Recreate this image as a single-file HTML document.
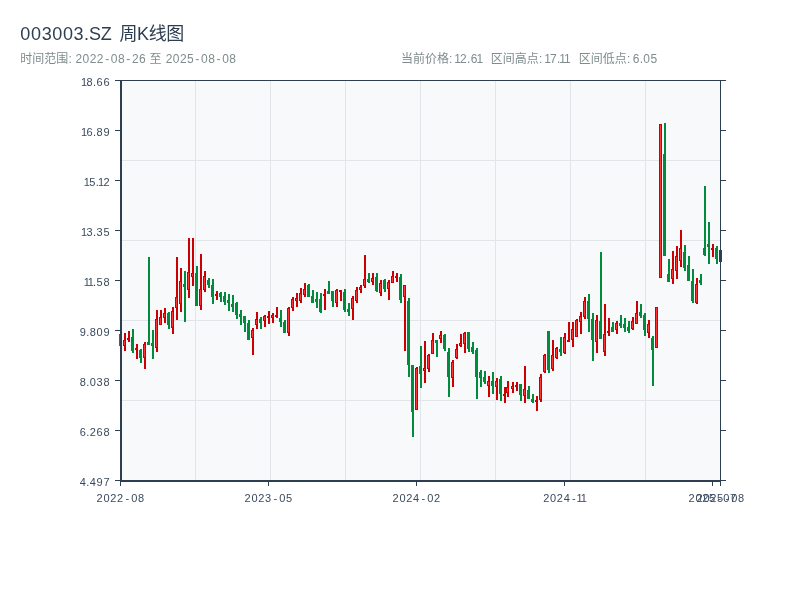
<!DOCTYPE html>
<html lang="zh-CN">
<head>
<meta charset="utf-8">
<title>003003.SZ 周K线图</title>
<style>
html,body{margin:0;padding:0;background:#fff;}
body{width:800px;height:600px;overflow:hidden;}
svg{display:block;font-family:"Liberation Sans", "Noto Sans CJK SC", sans-serif;}
.ax rect{fill:#2c3e50}
.gr rect{fill:#e1e5e9}
.yl text,.xl text{font-size:11px;fill:#394a5e}
.r{fill:#cc0000}.l{fill:#ff3333}.g{fill:#008c3c}
</style>
</head>
<body>
<svg width="800" height="600" viewBox="0 0 800 600" shape-rendering="crispEdges">
<rect x="0" y="0" width="800" height="600" fill="#ffffff"/>
<text y="39.5" font-size="18" fill="#2c3e50"><tspan x="20.32 30.98 41.64 52.29 62.95 73.60 84.09 89.00 100.85">003003.SZ</tspan><tspan x="114.40 119.38 137.04 148.72 166.27"> 周K线图</tspan></text>
<text y="63.2" font-size="12" fill="#7f8c8d"><tspan x="20.30 32.30 44.30 56.30 68.43 72.03">时间范围: </tspan><tspan x="75.52 82.62 89.72 96.83 105.17 110.83 117.94 126.28 131.94 139.04">2022-08-26</tspan><tspan x="145.93 149.40 161.53"> 至 </tspan><tspan x="165.72 172.82 179.92 187.03 195.37 201.03 208.14 216.48 222.14 229.24">2025-08-08</tspan></text>
<text y="63.2" font-size="12" fill="#7f8c8d"><tspan x="400.90 412.90 424.90 436.90 449.03 452.63">当前价格: </tspan><tspan x="454.24 460.08 467.07 470.72 476.55">12.61</tspan></text>
<text y="63.2" font-size="12" fill="#7f8c8d"><tspan x="490.80 502.80 514.80 526.80 538.93 542.53">区间高点: </tspan><tspan x="544.14 549.98 556.97 559.35 563.91">17.11</tspan></text>
<text y="63.2" font-size="12" fill="#7f8c8d"><tspan x="578.80 590.80 602.80 614.80 626.93 630.53">区间低点: </tspan><tspan x="632.72 639.71 643.36 650.46">6.05</tspan></text>
<rect x="121" y="80" width="600" height="401" fill="#f8f9fa"/>
<g class="gr">
<rect x="195" y="80" width="1" height="400"/><rect x="270" y="80" width="1" height="400"/><rect x="345" y="80" width="1" height="400"/><rect x="420" y="80" width="1" height="400"/><rect x="495" y="80" width="1" height="400"/><rect x="570" y="80" width="1" height="400"/><rect x="645" y="80" width="1" height="400"/><rect x="120" y="160" width="600" height="1"/><rect x="120" y="240" width="600" height="1"/><rect x="120" y="320" width="600" height="1"/><rect x="120" y="400" width="600" height="1"/>
</g>
<g>
<rect class="g" x="120" y="330" width="2" height="20"/><rect class="g" x="119" y="334" width="3" height="12"/>
<rect class="r" x="124" y="333" width="2" height="18"/><rect class="r" x="123" y="340" width="3" height="6"/><rect class="l" x="124" y="341" width="1" height="4"/>
<rect class="r" x="128" y="331" width="2" height="11"/><rect class="r" x="127" y="338" width="3" height="2"/>
<rect class="g" x="132" y="329" width="2" height="24"/><rect class="g" x="131" y="337" width="3" height="14"/>
<rect class="r" x="136" y="344" width="2" height="15"/><rect class="r" x="135" y="348" width="3" height="2"/>
<rect class="g" x="140" y="349" width="2" height="14"/><rect class="g" x="139" y="350" width="3" height="8"/>
<rect class="r" x="144" y="342" width="2" height="27"/><rect class="r" x="143" y="344" width="3" height="14"/><rect class="l" x="144" y="345" width="1" height="12"/>
<rect class="g" x="148" y="257" width="2" height="88"/><rect class="g" x="147" y="342" width="3" height="3"/>
<rect class="g" x="152" y="330" width="2" height="29"/><rect class="g" x="151" y="343" width="3" height="3"/>
<rect class="r" x="156" y="310" width="2" height="42"/><rect class="r" x="155" y="319" width="3" height="29"/><rect class="l" x="156" y="320" width="1" height="27"/>
<rect class="r" x="160" y="310" width="2" height="15"/><rect class="r" x="159" y="317" width="3" height="8"/><rect class="l" x="160" y="318" width="1" height="6"/>
<rect class="r" x="164" y="308" width="2" height="15"/><rect class="r" x="163" y="313" width="3" height="5"/><rect class="l" x="164" y="314" width="1" height="3"/>
<rect class="g" x="168" y="312" width="2" height="17"/><rect class="g" x="167" y="313" width="3" height="12"/>
<rect class="r" x="172" y="307" width="2" height="27"/><rect class="r" x="171" y="311" width="3" height="17"/><rect class="l" x="172" y="312" width="1" height="15"/>
<rect class="r" x="176" y="257" width="2" height="63"/><rect class="r" x="175" y="297" width="3" height="11"/><rect class="l" x="176" y="298" width="1" height="9"/>
<rect class="r" x="180" y="268" width="2" height="44"/><rect class="r" x="179" y="281" width="3" height="23"/><rect class="l" x="180" y="282" width="1" height="21"/>
<rect class="g" x="184" y="271" width="2" height="51"/><rect class="g" x="183" y="284" width="3" height="3"/>
<rect class="r" x="188" y="238" width="2" height="60"/><rect class="r" x="187" y="272" width="3" height="18"/><rect class="l" x="188" y="273" width="1" height="16"/>
<rect class="r" x="192" y="238" width="2" height="48"/><rect class="r" x="191" y="273" width="3" height="4"/><rect class="l" x="192" y="274" width="1" height="2"/>
<rect class="g" x="196" y="266" width="2" height="40"/><rect class="g" x="195" y="273" width="3" height="33"/>
<rect class="r" x="200" y="254" width="2" height="56"/><rect class="r" x="199" y="289" width="3" height="17"/><rect class="l" x="200" y="290" width="1" height="15"/>
<rect class="r" x="204" y="271" width="2" height="21"/><rect class="r" x="203" y="276" width="3" height="14"/><rect class="l" x="204" y="277" width="1" height="12"/>
<rect class="g" x="208" y="278" width="2" height="10"/><rect class="g" x="207" y="280" width="3" height="5"/>
<rect class="g" x="212" y="279" width="2" height="25"/><rect class="g" x="211" y="285" width="3" height="12"/>
<rect class="r" x="216" y="291" width="2" height="9"/><rect class="r" x="215" y="294" width="3" height="2"/>
<rect class="g" x="220" y="292" width="2" height="10"/><rect class="g" x="219" y="293" width="3" height="4"/>
<rect class="g" x="224" y="292" width="2" height="13"/><rect class="g" x="223" y="296" width="3" height="6"/>
<rect class="g" x="228" y="294" width="2" height="17"/><rect class="g" x="227" y="300" width="3" height="3"/>
<rect class="g" x="232" y="295" width="2" height="17"/><rect class="g" x="231" y="304" width="3" height="3"/>
<rect class="g" x="236" y="302" width="2" height="17"/><rect class="g" x="235" y="303" width="3" height="12"/>
<rect class="g" x="240" y="310" width="2" height="15"/><rect class="g" x="239" y="314" width="3" height="3"/>
<rect class="g" x="244" y="316" width="2" height="16"/><rect class="g" x="243" y="316" width="3" height="7"/>
<rect class="g" x="248" y="320" width="2" height="20"/><rect class="g" x="247" y="323" width="3" height="17"/>
<rect class="r" x="252" y="328" width="2" height="27"/><rect class="r" x="251" y="330" width="3" height="8"/><rect class="l" x="252" y="331" width="1" height="6"/>
<rect class="r" x="256" y="312" width="2" height="17"/><rect class="r" x="255" y="319" width="3" height="6"/><rect class="l" x="256" y="320" width="1" height="4"/>
<rect class="g" x="260" y="317" width="2" height="12"/><rect class="g" x="259" y="319" width="3" height="4"/>
<rect class="r" x="264" y="315" width="2" height="12"/><rect class="r" x="263" y="316" width="3" height="5"/><rect class="l" x="264" y="317" width="1" height="3"/>
<rect class="r" x="268" y="311" width="2" height="13"/><rect class="r" x="267" y="316" width="3" height="2"/>
<rect class="r" x="272" y="313" width="2" height="10"/><rect class="r" x="271" y="315" width="3" height="3"/><rect class="l" x="272" y="316" width="1" height="1"/>
<rect class="r" x="276" y="307" width="2" height="11"/><rect class="r" x="275" y="315" width="3" height="2"/>
<rect class="g" x="280" y="310" width="2" height="17"/><rect class="g" x="279" y="318" width="3" height="4"/>
<rect class="g" x="284" y="320" width="2" height="13"/><rect class="g" x="283" y="322" width="3" height="11"/>
<rect class="r" x="288" y="307" width="2" height="29"/><rect class="r" x="287" y="308" width="3" height="25"/><rect class="l" x="288" y="309" width="1" height="23"/>
<rect class="r" x="292" y="297" width="2" height="14"/><rect class="r" x="291" y="299" width="3" height="9"/><rect class="l" x="292" y="300" width="1" height="7"/>
<rect class="r" x="296" y="293" width="2" height="14"/><rect class="r" x="295" y="298" width="3" height="3"/><rect class="l" x="296" y="299" width="1" height="1"/>
<rect class="r" x="300" y="288" width="2" height="15"/><rect class="r" x="299" y="293" width="3" height="8"/><rect class="l" x="300" y="294" width="1" height="6"/>
<rect class="r" x="304" y="283" width="2" height="14"/><rect class="r" x="303" y="289" width="3" height="6"/><rect class="l" x="304" y="290" width="1" height="4"/>
<rect class="g" x="308" y="284" width="2" height="13"/><rect class="g" x="307" y="285" width="3" height="12"/>
<rect class="g" x="312" y="290" width="2" height="13"/><rect class="g" x="311" y="296" width="3" height="7"/>
<rect class="g" x="316" y="292" width="2" height="16"/><rect class="g" x="315" y="299" width="3" height="3"/>
<rect class="g" x="320" y="293" width="2" height="20"/><rect class="g" x="319" y="299" width="3" height="13"/>
<rect class="r" x="324" y="289" width="2" height="21"/><rect class="r" x="323" y="294" width="3" height="2"/>
<rect class="g" x="328" y="281" width="2" height="13"/><rect class="g" x="327" y="291" width="3" height="3"/>
<rect class="g" x="332" y="291" width="2" height="16"/><rect class="g" x="331" y="291" width="3" height="10"/>
<rect class="r" x="336" y="289" width="2" height="18"/><rect class="r" x="335" y="290" width="3" height="13"/><rect class="l" x="336" y="291" width="1" height="11"/>
<rect class="r" x="340" y="290" width="2" height="11"/><rect class="r" x="339" y="290" width="3" height="2"/>
<rect class="g" x="344" y="289" width="2" height="23"/><rect class="g" x="343" y="292" width="3" height="18"/>
<rect class="g" x="348" y="303" width="2" height="13"/><rect class="g" x="347" y="309" width="3" height="3"/>
<rect class="r" x="352" y="296" width="2" height="24"/><rect class="r" x="351" y="298" width="3" height="11"/><rect class="l" x="352" y="299" width="1" height="9"/>
<rect class="r" x="356" y="287" width="2" height="16"/><rect class="r" x="355" y="290" width="3" height="11"/><rect class="l" x="356" y="291" width="1" height="9"/>
<rect class="r" x="360" y="285" width="2" height="8"/><rect class="r" x="359" y="287" width="3" height="3"/><rect class="l" x="360" y="288" width="1" height="1"/>
<rect class="r" x="364" y="255" width="2" height="33"/><rect class="r" x="363" y="279" width="3" height="7"/><rect class="l" x="364" y="280" width="1" height="5"/>
<rect class="g" x="368" y="273" width="2" height="10"/><rect class="g" x="367" y="279" width="3" height="3"/>
<rect class="r" x="372" y="273" width="2" height="12"/><rect class="r" x="371" y="278" width="3" height="4"/><rect class="l" x="372" y="279" width="1" height="2"/>
<rect class="g" x="376" y="273" width="2" height="19"/><rect class="g" x="375" y="277" width="3" height="14"/>
<rect class="r" x="380" y="280" width="2" height="16"/><rect class="r" x="379" y="283" width="3" height="10"/><rect class="l" x="380" y="284" width="1" height="8"/>
<rect class="g" x="384" y="279" width="2" height="13"/><rect class="g" x="383" y="280" width="3" height="9"/>
<rect class="r" x="388" y="280" width="2" height="20"/><rect class="r" x="387" y="282" width="3" height="7"/><rect class="l" x="388" y="283" width="1" height="5"/>
<rect class="r" x="392" y="271" width="2" height="12"/><rect class="r" x="391" y="276" width="3" height="7"/><rect class="l" x="392" y="277" width="1" height="5"/>
<rect class="r" x="396" y="273" width="2" height="9"/><rect class="r" x="395" y="276" width="3" height="2"/>
<rect class="g" x="400" y="274" width="2" height="29"/><rect class="g" x="399" y="277" width="3" height="23"/>
<rect class="r" x="404" y="285" width="2" height="66"/><rect class="r" x="403" y="285" width="3" height="12"/><rect class="l" x="404" y="286" width="1" height="10"/>
<rect class="g" x="408" y="298" width="2" height="79"/><rect class="g" x="407" y="301" width="3" height="64"/>
<rect class="g" x="412" y="365" width="2" height="72"/><rect class="g" x="411" y="365" width="3" height="47"/>
<rect class="r" x="416" y="367" width="2" height="43"/><rect class="r" x="415" y="368" width="3" height="42"/><rect class="l" x="416" y="369" width="1" height="40"/>
<rect class="g" x="420" y="346" width="2" height="42"/><rect class="g" x="419" y="366" width="3" height="8"/>
<rect class="r" x="424" y="341" width="2" height="42"/><rect class="r" x="423" y="368" width="3" height="3"/><rect class="l" x="424" y="369" width="1" height="1"/>
<rect class="r" x="428" y="354" width="2" height="18"/><rect class="r" x="427" y="355" width="3" height="14"/><rect class="l" x="428" y="356" width="1" height="12"/>
<rect class="r" x="432" y="333" width="2" height="21"/><rect class="r" x="431" y="340" width="3" height="14"/><rect class="l" x="432" y="341" width="1" height="12"/>
<rect class="g" x="436" y="340" width="2" height="17"/><rect class="g" x="435" y="340" width="3" height="3"/>
<rect class="r" x="440" y="331" width="2" height="12"/><rect class="r" x="439" y="335" width="3" height="4"/><rect class="l" x="440" y="336" width="1" height="2"/>
<rect class="g" x="444" y="334" width="2" height="17"/><rect class="g" x="443" y="335" width="3" height="14"/>
<rect class="g" x="448" y="348" width="2" height="49"/><rect class="g" x="447" y="352" width="3" height="25"/>
<rect class="r" x="452" y="360" width="2" height="27"/><rect class="r" x="451" y="362" width="3" height="16"/><rect class="l" x="452" y="363" width="1" height="14"/>
<rect class="r" x="456" y="344" width="2" height="15"/><rect class="r" x="455" y="349" width="3" height="9"/><rect class="l" x="456" y="350" width="1" height="7"/>
<rect class="r" x="460" y="334" width="2" height="13"/><rect class="r" x="459" y="343" width="3" height="3"/><rect class="l" x="460" y="344" width="1" height="1"/>
<rect class="r" x="464" y="332" width="2" height="21"/><rect class="r" x="463" y="333" width="3" height="11"/><rect class="l" x="464" y="334" width="1" height="9"/>
<rect class="g" x="468" y="332" width="2" height="20"/><rect class="g" x="467" y="332" width="3" height="17"/>
<rect class="g" x="472" y="342" width="2" height="12"/><rect class="g" x="471" y="347" width="3" height="5"/>
<rect class="g" x="476" y="348" width="2" height="51"/><rect class="g" x="475" y="350" width="3" height="27"/>
<rect class="g" x="480" y="370" width="2" height="17"/><rect class="g" x="479" y="372" width="3" height="6"/>
<rect class="g" x="484" y="371" width="2" height="13"/><rect class="g" x="483" y="377" width="3" height="5"/>
<rect class="r" x="488" y="376" width="2" height="21"/><rect class="r" x="487" y="381" width="3" height="5"/><rect class="l" x="488" y="382" width="1" height="3"/>
<rect class="g" x="492" y="372" width="2" height="22"/><rect class="g" x="491" y="381" width="3" height="5"/>
<rect class="r" x="496" y="378" width="2" height="22"/><rect class="r" x="495" y="381" width="3" height="6"/><rect class="l" x="496" y="382" width="1" height="4"/>
<rect class="g" x="500" y="376" width="2" height="25"/><rect class="g" x="499" y="379" width="3" height="15"/>
<rect class="r" x="504" y="387" width="2" height="16"/><rect class="r" x="503" y="394" width="3" height="2"/>
<rect class="r" x="507" y="381" width="2" height="16"/><rect class="r" x="506" y="387" width="3" height="6"/><rect class="l" x="507" y="388" width="1" height="4"/>
<rect class="r" x="512" y="382" width="2" height="11"/><rect class="r" x="511" y="386" width="3" height="3"/><rect class="l" x="512" y="387" width="1" height="1"/>
<rect class="r" x="516" y="382" width="2" height="9"/><rect class="r" x="515" y="385" width="3" height="2"/>
<rect class="g" x="520" y="384" width="2" height="17"/><rect class="g" x="519" y="384" width="3" height="11"/>
<rect class="r" x="524" y="366" width="2" height="37"/><rect class="r" x="523" y="389" width="3" height="7"/><rect class="l" x="524" y="390" width="1" height="5"/>
<rect class="g" x="528" y="386" width="2" height="13"/><rect class="g" x="527" y="390" width="3" height="9"/>
<rect class="g" x="532" y="394" width="2" height="9"/><rect class="g" x="531" y="399" width="3" height="3"/>
<rect class="r" x="536" y="396" width="2" height="15"/><rect class="r" x="535" y="400" width="3" height="2"/>
<rect class="r" x="540" y="374" width="2" height="28"/><rect class="r" x="539" y="377" width="3" height="23"/><rect class="l" x="540" y="378" width="1" height="21"/>
<rect class="r" x="544" y="354" width="2" height="19"/><rect class="r" x="543" y="355" width="3" height="17"/><rect class="l" x="544" y="356" width="1" height="15"/>
<rect class="g" x="548" y="331" width="2" height="42"/><rect class="g" x="547" y="331" width="3" height="39"/>
<rect class="r" x="552" y="340" width="2" height="31"/><rect class="r" x="551" y="355" width="3" height="14"/><rect class="l" x="552" y="356" width="1" height="12"/>
<rect class="r" x="556" y="347" width="2" height="12"/><rect class="r" x="555" y="348" width="3" height="10"/><rect class="l" x="556" y="349" width="1" height="8"/>
<rect class="g" x="560" y="337" width="2" height="19"/><rect class="g" x="559" y="349" width="3" height="3"/>
<rect class="r" x="564" y="333" width="2" height="21"/><rect class="r" x="563" y="337" width="3" height="16"/><rect class="l" x="564" y="338" width="1" height="14"/>
<rect class="r" x="568" y="322" width="2" height="20"/><rect class="r" x="567" y="340" width="3" height="2"/>
<rect class="r" x="572" y="322" width="2" height="25"/><rect class="r" x="571" y="329" width="3" height="11"/><rect class="l" x="572" y="330" width="1" height="9"/>
<rect class="r" x="576" y="319" width="2" height="18"/><rect class="r" x="575" y="320" width="3" height="17"/><rect class="l" x="576" y="321" width="1" height="15"/>
<rect class="r" x="580" y="312" width="2" height="22"/><rect class="r" x="579" y="316" width="3" height="6"/><rect class="l" x="580" y="317" width="1" height="4"/>
<rect class="r" x="584" y="297" width="2" height="22"/><rect class="r" x="583" y="301" width="3" height="16"/><rect class="l" x="584" y="302" width="1" height="14"/>
<rect class="g" x="588" y="294" width="2" height="38"/><rect class="g" x="587" y="301" width="3" height="18"/>
<rect class="g" x="592" y="313" width="2" height="48"/><rect class="g" x="591" y="319" width="3" height="21"/>
<rect class="r" x="596" y="315" width="2" height="38"/><rect class="r" x="595" y="320" width="3" height="22"/><rect class="l" x="596" y="321" width="1" height="20"/>
<rect class="g" x="600" y="252" width="2" height="87"/><rect class="g" x="599" y="321" width="3" height="18"/>
<rect class="r" x="604" y="304" width="2" height="52"/><rect class="r" x="603" y="334" width="3" height="18"/><rect class="l" x="604" y="335" width="1" height="16"/>
<rect class="r" x="608" y="318" width="2" height="18"/><rect class="r" x="607" y="331" width="3" height="2"/>
<rect class="g" x="612" y="322" width="2" height="10"/><rect class="g" x="611" y="327" width="3" height="5"/>
<rect class="r" x="616" y="321" width="2" height="13"/><rect class="r" x="615" y="323" width="3" height="7"/><rect class="l" x="616" y="324" width="1" height="5"/>
<rect class="g" x="620" y="315" width="2" height="13"/><rect class="g" x="619" y="323" width="3" height="3"/>
<rect class="g" x="624" y="318" width="2" height="14"/><rect class="g" x="623" y="324" width="3" height="4"/>
<rect class="g" x="628" y="321" width="2" height="12"/><rect class="g" x="627" y="327" width="3" height="4"/>
<rect class="r" x="632" y="317" width="2" height="13"/><rect class="r" x="631" y="321" width="3" height="8"/><rect class="l" x="632" y="322" width="1" height="6"/>
<rect class="r" x="636" y="301" width="2" height="23"/><rect class="r" x="635" y="313" width="3" height="11"/><rect class="l" x="636" y="314" width="1" height="9"/>
<rect class="g" x="640" y="304" width="2" height="14"/><rect class="g" x="639" y="312" width="3" height="4"/>
<rect class="g" x="644" y="313" width="2" height="23"/><rect class="g" x="643" y="315" width="3" height="15"/>
<rect class="r" x="648" y="320" width="2" height="18"/><rect class="r" x="647" y="324" width="3" height="9"/><rect class="l" x="648" y="325" width="1" height="7"/>
<rect class="g" x="652" y="336" width="2" height="50"/><rect class="g" x="651" y="338" width="3" height="12"/>
<rect class="r" x="656" y="307" width="2" height="41"/><rect class="r" x="655" y="307" width="3" height="41"/><rect class="l" x="656" y="308" width="1" height="39"/>
<rect class="r" x="660" y="124" width="2" height="154"/><rect class="r" x="659" y="124" width="3" height="154"/><rect class="l" x="660" y="125" width="1" height="152"/>
<rect class="g" x="664" y="123" width="2" height="133"/><rect class="g" x="663" y="154" width="3" height="102"/>
<rect class="g" x="668" y="259" width="2" height="23"/><rect class="g" x="667" y="274" width="3" height="8"/>
<rect class="r" x="672" y="251" width="2" height="33"/><rect class="r" x="671" y="269" width="3" height="10"/><rect class="l" x="672" y="270" width="1" height="8"/>
<rect class="r" x="676" y="246" width="2" height="33"/><rect class="r" x="675" y="256" width="3" height="15"/><rect class="l" x="676" y="257" width="1" height="13"/>
<rect class="r" x="680" y="230" width="2" height="37"/><rect class="r" x="679" y="248" width="3" height="13"/><rect class="l" x="680" y="249" width="1" height="11"/>
<rect class="g" x="684" y="245" width="2" height="26"/><rect class="g" x="683" y="252" width="3" height="16"/>
<rect class="g" x="688" y="256" width="2" height="25"/><rect class="g" x="687" y="265" width="3" height="16"/>
<rect class="g" x="692" y="269" width="2" height="34"/><rect class="g" x="691" y="281" width="3" height="20"/>
<rect class="r" x="696" y="278" width="2" height="26"/><rect class="r" x="695" y="284" width="3" height="19"/><rect class="l" x="696" y="285" width="1" height="17"/>
<rect class="g" x="700" y="274" width="2" height="11"/><rect class="g" x="699" y="280" width="3" height="3"/>
<rect class="g" x="704" y="186" width="2" height="70"/><rect class="g" x="703" y="248" width="3" height="7"/>
<rect class="g" x="708" y="222" width="2" height="42"/><rect class="g" x="707" y="244" width="3" height="3"/>
<rect class="r" x="712" y="244" width="2" height="13"/><rect class="r" x="711" y="248" width="3" height="2"/>
<rect class="g" x="716" y="246" width="2" height="18"/><rect class="g" x="715" y="248" width="3" height="11"/>
<rect class="r" x="720" y="250" width="2" height="12"/><rect class="r" x="719" y="250" width="3" height="12"/><rect class="l" x="720" y="251" width="1" height="10"/>
</g>
<g class="ax">
<rect x="120" y="80" width="2" height="402"/><rect x="120" y="480" width="601" height="2"/><rect x="120" y="80" width="601" height="1"/><rect x="720" y="80" width="1" height="402"/>
<rect x="115" y="80" width="5" height="1"/><rect x="721" y="80" width="5" height="1"/><rect x="115" y="130" width="5" height="1"/><rect x="721" y="130" width="5" height="1"/><rect x="115" y="180" width="5" height="1"/><rect x="721" y="180" width="5" height="1"/><rect x="115" y="230" width="5" height="1"/><rect x="721" y="230" width="5" height="1"/><rect x="115" y="280" width="5" height="1"/><rect x="721" y="280" width="5" height="1"/><rect x="115" y="330" width="5" height="1"/><rect x="721" y="330" width="5" height="1"/><rect x="115" y="380" width="5" height="1"/><rect x="721" y="380" width="5" height="1"/><rect x="115" y="430" width="5" height="1"/><rect x="721" y="430" width="5" height="1"/><rect x="115" y="480" width="5" height="1"/><rect x="721" y="480" width="5" height="1"/>
<rect x="120" y="482" width="1" height="4"/><rect x="268" y="482" width="1" height="4"/><rect x="416" y="482" width="1" height="4"/><rect x="564" y="482" width="1" height="4"/><rect x="712" y="482" width="1" height="4"/><rect x="720" y="482" width="1" height="4"/>
</g>
<g class="yl">
<text y="86" x="81.05 86.55 93.11 96.61 103.43">18.66</text><text y="136" x="81.05 86.55 93.11 96.61 103.43">16.89</text><text y="186" x="83.69 89.19 95.75 97.93 103.43">15.12</text><text y="236" x="81.05 86.55 93.11 96.61 103.43">13.35</text><text y="286" x="83.69 87.87 93.11 96.61 103.43">11.58</text><text y="336" x="79.73 86.29 89.79 96.61 103.43">9.809</text><text y="386" x="79.73 86.29 89.79 96.61 103.43">8.038</text><text y="436" x="79.73 86.29 89.79 96.61 103.43">6.268</text><text y="486" x="79.73 86.29 89.79 96.61 103.43">4.497</text>
</g>
<g class="xl">
<text y="502" x="96.59 103.41 110.23 117.05 125.39 131.27 138.09">2022-08</text><text y="502" x="244.59 251.41 258.23 265.05 273.39 279.27 286.09">2023-05</text><text y="502" x="392.59 399.41 406.23 413.05 421.39 427.27 434.09">2024-02</text><text y="502" x="543.23 550.05 556.87 563.69 572.03 576.59 580.77">2024-11</text><text y="502" x="688.59 695.41 702.23 709.05 717.39 723.27 730.09">2025-07</text><text y="502" x="696.59 703.41 710.23 717.05 725.39 731.27 738.09">2025-08</text>
</g>
</svg>
</body>
</html>
